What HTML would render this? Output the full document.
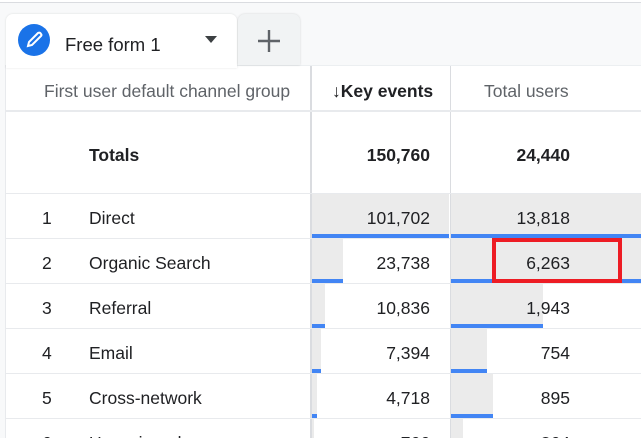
<!DOCTYPE html>
<html style="width:641px;height:438px;overflow:hidden"><head><style>
*{margin:0;padding:0;box-sizing:border-box}
body{width:641px;height:438px;overflow:hidden;background:#fff;position:relative;font-family:"Liberation Sans",Arial,sans-serif;color:#202124}
.a{position:absolute}
.t{position:absolute;font-size:17.5px;line-height:20px;height:20px;white-space:nowrap;overflow:hidden}
.r{text-align:right}
</style></head><body>
<div class="a" style="left:0;top:0;width:641px;height:2px;background:#fff"></div>
<div class="a" style="left:0;top:2px;width:641px;height:1px;background:#dadce0"></div>
<div class="a" style="left:0;top:3px;width:641px;height:63px;background:#f8f9fa"></div>
<div class="a" style="left:0;top:65px;width:6px;height:373px;background:#f8f9fa"></div>
<div class="a" style="left:5px;top:65px;width:1px;height:373px;background:#e8eaed"></div>
<div class="a" style="left:6px;top:65px;width:635px;height:1px;background:#eceff1"></div>
<div class="a" style="left:6px;top:14px;width:231px;height:54px;background:#fff;border-radius:7px 7px 0 0;box-shadow:0 0 2px rgba(0,0,0,.12)"></div>
<div class="a" style="left:238px;top:14px;width:62px;height:51px;background:#f1f3f4;border-radius:7px 7px 0 0;box-shadow:0 0 2px rgba(0,0,0,.15)"></div>
<div class="a" style="left:18px;top:24px;width:32px;height:32px;border-radius:50%;background:#1a73e8"></div>
<svg class="a" style="left:18px;top:24px" width="32" height="32"><path d="M10 22 L11 18 L20 9 Q22 8 23 10 L23 10 Q24 11 23 12 L14 21 Z" fill="none" stroke="#fff" stroke-width="2"/></svg>
<div class="t" style="left:65px;top:34px;font-size:18.5px;font-weight:500;height:22px;line-height:22px">Free form 1</div>
<svg class="a" style="left:204px;top:36px" width="14" height="8"><path d="M1 0 L13 0 L7 7Z" fill="#3c4043"/></svg>
<svg class="a" style="left:256px;top:28px" width="26" height="26"><path d="M13 2V24M2 13H24" stroke="#5f6368" stroke-width="2.4"/></svg>
<div class="a" style="left:310px;top:66px;width:2px;height:372px;background:#dadce0"></div>
<div class="a" style="left:450px;top:66px;width:1px;height:372px;background:#dadce0"></div>
<div class="t" style="left:44px;top:81px;color:#5f6368">First user default channel group</div>
<div class="t" style="left:332px;top:81px;font-weight:bold">↓Key events</div>
<div class="t" style="left:484px;top:81px;color:#5f6368">Total users</div>
<div class="a" style="left:6px;top:110px;width:635px;height:2px;background:#e8eaed"></div>
<div class="t" style="left:89px;top:145px;font-weight:bold">Totals</div>
<div class="t r" style="left:330px;width:100px;top:145px;font-weight:bold">150,760</div>
<div class="t r" style="left:470px;width:100px;top:145px;font-weight:bold">24,440</div>
<div class="a" style="left:6px;top:193px;width:635px;height:1px;background:#e8eaed"></div>
<div id="rows" class="a" style="left:0;top:0;width:641px;height:438px;overflow:hidden"></div>
<script>
var d=[["1","Direct","101,702",449,"13,818",641],["2","Organic Search","23,738",343,"6,263",641],["3","Referral","10,836",325,"1,943",543],["4","Email","7,394",321,"754",487],["5","Cross-network","4,718",317,"895",493],["6","Unassigned","766",314,"364",463]];
var h="";
function hh(top,hgt){return Math.max(0,Math.min(hgt,438-top));}
function box(l,t,w,ht,bg){var H=hh(t,ht);if(H<=0)return "";return '<div class="a" style="left:'+l+'px;top:'+t+'px;width:'+w+'px;height:'+H+'px;background:'+bg+'"></div>';}
function txt(l,t,s,cls,w){var H=hh(t,20);if(H<=0)return "";return '<div class="t'+(cls||'')+'" style="left:'+l+'px;top:'+t+'px;height:'+H+'px;'+(w?'width:'+w+'px;':'')+'">'+s+'</div>';}
d.forEach(function(r,i){var y=194+45*i;
h+=box(312,y,r[3]-312,44,"#ebebeb");
h+=box(312,y+40,r[3]-312,4,"#4285f4");
h+=box(451,y,r[5]-451,44,"#ebebeb");
h+=box(451,y+40,r[5]-451,4,"#4285f4");
h+=txt(42,y+14,r[0]);
h+=txt(89,y+14,r[1]);
h+=txt(330,y+14,r[2]," r",100);
h+=txt(470,y+14,r[4]," r",100);
h+=box(6,y+44,635,1,"#e8eaed");
});
document.getElementById("rows").innerHTML=h;
</script>
<div class="a" style="left:492px;top:238px;width:130px;height:45px;border:4px solid #ed1c24"></div>
</body></html>
